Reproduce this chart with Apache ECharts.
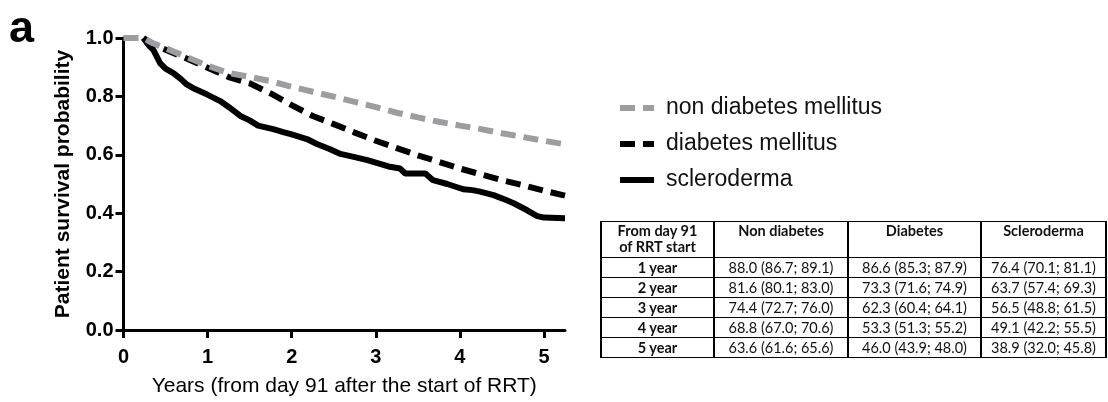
<!DOCTYPE html>
<html>
<head>
<meta charset="utf-8">
<script src="https://cdn.jsdelivr.net/npm/echarts@6/dist/echarts.min.js"></script>
<style>
html,body{margin:0;padding:0;background:#fff;}
#wrap{position:relative;width:1108px;height:402px;overflow:hidden;background:#fff;}
#chart{position:absolute;left:0;top:0;width:1108px;height:402px;}
#tbl{position:absolute;left:600px;top:221px;border-collapse:collapse;table-layout:fixed;
  font-family:Lato,'Liberation Sans',sans-serif;font-size:14.5px;color:#111;}
#tbl td,#tbl th{border:1px solid #000;border-left-width:2px;border-right-width:2px;padding:0;text-align:center;white-space:nowrap;}
#tbl th{font-weight:bold;vertical-align:top;height:34px;line-height:16px;padding-top:1px;}
#tbl td{height:19px;line-height:19px;}
#tbl td.lab{font-weight:bold;}
</style>
</head>
<body>
<div id="wrap">
  <div id="chart"></div>
  <table id="tbl"></table>
</div>
<script>
// ---------- data ----------
const seriesNames = ['non diabetes mellitus', 'diabetes mellitus', 'scleroderma'];
const yearTicks = [0, 1, 2, 3, 4, 5];

const nonDmTime = [0, 0.236, 0.35, 0.5, 0.75, 1.0, 1.25, 1.5, 1.75, 2.0, 2.25, 2.5, 2.75, 3.0, 3.25, 3.5, 3.75, 4.0, 4.25, 4.5, 4.75, 5.0, 5.25];
const nonDmSurv = [1, 1, 0.982, 0.965, 0.935, 0.905, 0.88, 0.867, 0.852, 0.833, 0.816, 0.799, 0.781, 0.763, 0.744, 0.728, 0.713, 0.700, 0.688, 0.674, 0.661, 0.648, 0.636];

const dmTime = [0.236, 0.35, 0.5, 0.75, 1.0, 1.25, 1.5, 1.75, 2.0, 2.25, 2.5, 2.75, 3.0, 3.25, 3.5, 3.75, 4.0, 4.25, 4.5, 4.75, 5.0, 5.25];
const dmSurv = [1, 0.98, 0.96, 0.93, 0.898, 0.866, 0.845, 0.81, 0.77, 0.733, 0.705, 0.676, 0.648, 0.623, 0.598, 0.576, 0.553, 0.533, 0.513, 0.496, 0.477, 0.46];

const sclTime = [0.236, 0.3, 0.355, 0.435, 0.5, 0.593, 0.68, 0.752, 0.85, 0.99, 1.15, 1.25, 1.39, 1.5, 1.6, 1.78, 1.9, 2.0, 2.18, 2.3, 2.45, 2.58, 2.75, 2.9, 3.05, 3.15, 3.29, 3.35, 3.59, 3.68, 3.85, 4.04, 4.15, 4.24, 4.4, 4.55, 4.64, 4.8, 4.92, 5.0, 5.25];
const sclSurv = [1, 0.975, 0.959, 0.914, 0.895, 0.88, 0.86, 0.841, 0.825, 0.807, 0.784, 0.764, 0.733, 0.718, 0.70, 0.688, 0.678, 0.67, 0.654, 0.637, 0.62, 0.603, 0.592, 0.582, 0.569, 0.56, 0.553, 0.536, 0.536, 0.513, 0.50, 0.482, 0.479, 0.474, 0.462, 0.445, 0.434, 0.41, 0.39, 0.385, 0.383];

// table
const tableHeaders = ['From day 91<br>of RRT start', 'Non diabetes', 'Diabetes', 'Scleroderma'];
const tableRowLabels = ['1 year', '2 year', '3 year', '4 year', '5 year'];
const nonDmEst = [88.0, 81.6, 74.4, 68.8, 63.6];
const nonDmLo  = [86.7, 80.1, 72.7, 67.0, 61.6];
const nonDmHi  = [89.1, 83.0, 76.0, 70.6, 65.6];
const dmEst = [86.6, 73.3, 62.3, 53.3, 46.0];
const dmLo  = [85.3, 71.6, 60.4, 51.3, 43.9];
const dmHi  = [87.9, 74.9, 64.1, 55.2, 48.0];
const sclEst = [76.4, 63.7, 56.5, 49.1, 38.9];
const sclLo  = [70.1, 57.4, 48.8, 42.2, 32.0];
const sclHi  = [81.1, 69.3, 61.5, 55.5, 45.8];

// ---------- table ----------
const colWidths = [113, 134, 133, 125];
(function buildTable(){
  const t = document.getElementById('tbl');
  const f = v => v.toFixed(1);
  const cell = (e, l, h) => f(e) + ' (' + f(l) + '; ' + f(h) + ')';
  let html = '<colgroup>' + colWidths.map(w => '<col style="width:' + w + 'px">').join('') + '</colgroup>';
  html += '<tr>' + tableHeaders.map(h => '<th>' + h + '</th>').join('') + '</tr>';
  tableRowLabels.forEach((lab, i) => {
    html += '<tr><td class="lab">' + lab + '</td><td>' + cell(nonDmEst[i], nonDmLo[i], nonDmHi[i]) +
      '</td><td>' + cell(dmEst[i], dmLo[i], dmHi[i]) + '</td><td>' + cell(sclEst[i], sclLo[i], sclHi[i]) + '</td></tr>';
  });
  t.innerHTML = html;
})();

// ---------- chart ----------
const zip = (xs, ys) => xs.map((x, i) => [x, ys[i]]);
const chart = echarts.init(document.getElementById('chart'), null, {renderer: 'canvas'});
const FONT = "'Liberation Sans', Arial, sans-serif";
const grayCol = '#9d9da1';
const LW = 6;

chart.setOption({
  animation: false,
  textStyle: {fontFamily: FONT},
  grid: {left: 123.5, right: 543, top: 38, bottom: 69},
  graphic: [{
    type: 'text', left: 9, top: 7,
    style: {text: 'a', font: "bold 45px 'Liberation Sans', Arial, sans-serif", fill: '#000'}
  }],
  legend: {
    orient: 'vertical', left: 612, top: 90,
    itemWidth: 34, itemHeight: 14, itemGap: 10,
    data: seriesNames,
    itemStyle: {color: 'rgba(0,0,0,0)', borderWidth: 0, opacity: 0},
    lineStyle: {width: LW},
    textStyle: {fontSize: 23, color: '#111', lineHeight: 26, padding: [0, 0, 0, 7], fontFamily: FONT},
    selectedMode: false
  },
  xAxis: {
    type: 'value', min: 0, max: 5.25,
    name: 'Years (from day 91 after the start of RRT)',
    nameLocation: 'middle', nameGap: 46,
    nameTextStyle: {fontSize: 21, color: '#000', fontFamily: FONT},
    axisLine: {show: true, lineStyle: {color: '#000', width: 3}},
    axisTick: {show: true, length: 8, lineStyle: {color: '#000', width: 3}, customValues: yearTicks},
    axisLabel: {customValues: yearTicks, fontSize: 20, fontWeight: 'bold', color: '#000', margin: 17, fontFamily: FONT},
    splitLine: {show: false}
  },
  yAxis: {
    type: 'value', min: 0, max: 1, interval: 0.2,
    name: 'Patient survival probability',
    nameLocation: 'middle', nameGap: 50,
    nameTextStyle: {fontSize: 21, fontWeight: 'bold', color: '#000', fontFamily: FONT},
    axisLine: {show: true, lineStyle: {color: '#000', width: 3}},
    axisTick: {show: true, length: 8, lineStyle: {color: '#000', width: 3}},
    axisLabel: {formatter: v => v.toFixed(1), fontSize: 20, fontWeight: 'bold', color: '#000', margin: 10, fontFamily: FONT},
    splitLine: {show: false}
  },
  series: [
    {
      name: 'scleroderma', type: 'line', data: zip(sclTime, sclSurv),
      symbol: 'none', showSymbol: false, z: 2,
      lineStyle: {color: '#000', width: LW, type: 'solid'}, itemStyle: {color: '#000'}
    },
    {
      name: 'diabetes mellitus', type: 'line', data: zip(dmTime, dmSurv),
      symbol: 'none', showSymbol: false, z: 3,
      lineStyle: {color: '#000', width: LW, type: [15, 8], cap: 'butt'}, itemStyle: {color: '#000'}
    },
    {
      name: 'non diabetes mellitus', type: 'line', data: zip(nonDmTime, nonDmSurv),
      symbol: 'none', showSymbol: false, z: 4,
      lineStyle: {color: grayCol, width: LW, type: [15, 8], cap: 'butt'}, itemStyle: {color: grayCol}
    }
  ]
});
</script>
</body>
</html>
